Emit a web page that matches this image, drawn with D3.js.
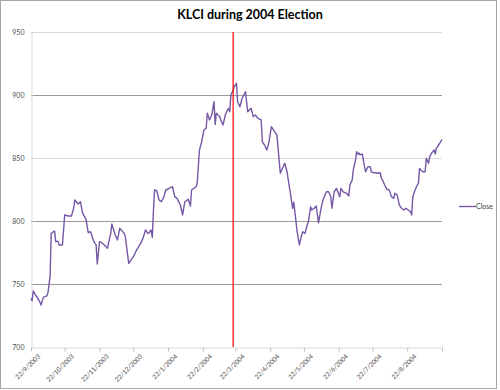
<!DOCTYPE html>
<html>
<head>
<meta charset="utf-8">
<script src="https://cdn.jsdelivr.net/npm/d3@7"></script>
<style>
  body { margin: 0; background: #fff; }
  text { font-family: Lato, "Open Sans", sans-serif; }
</style>
</head>
<body>
<script>
const chart_width = 500;
const chart_height = 390;

// closing values of the KLCI
const dates = [
  "2003-09-22","2003-09-23","2003-09-24","2003-09-26","2003-09-29","2003-10-01","2003-10-02","2003-10-03",
  "2003-10-06","2003-10-07","2003-10-09","2003-10-10","2003-10-12","2003-10-13","2003-10-14","2003-10-16",
  "2003-10-17","2003-10-20","2003-10-22","2003-10-25","2003-10-28","2003-10-30","2003-10-31","2003-11-03",
  "2003-11-05","2003-11-07","2003-11-10","2003-11-12","2003-11-14","2003-11-17","2003-11-19","2003-11-20",
  "2003-11-22","2003-11-24","2003-11-28","2003-11-29","2003-12-02","2003-12-03","2003-12-06","2003-12-08",
  "2003-12-10","2003-12-14","2003-12-15","2003-12-18","2003-12-20","2003-12-23","2003-12-25","2003-12-26",
  "2003-12-29","2003-12-31","2004-01-02","2004-01-04","2004-01-05","2004-01-07","2004-01-08","2004-01-09",
  "2004-01-10","2004-01-12","2004-01-14","2004-01-16","2004-01-18","2004-01-20","2004-01-23","2004-01-26",
  "2004-01-28","2004-01-30","2004-02-02","2004-02-04","2004-02-06","2004-02-09","2004-02-11","2004-02-12",
  "2004-02-16","2004-02-17","2004-02-19","2004-02-21","2004-02-23","2004-02-25","2004-02-26","2004-02-28",
  "2004-03-01","2004-03-03","2004-03-04","2004-03-05","2004-03-08","2004-03-09","2004-03-11","2004-03-13",
  "2004-03-15","2004-03-16","2004-03-17","2004-03-18","2004-03-20","2004-03-21","2004-03-23","2004-03-24",
  "2004-03-26","2004-03-28","2004-03-31","2004-04-02","2004-04-05","2004-04-07","2004-04-09","2004-04-11",
  "2004-04-14","2004-04-15","2004-04-17","2004-04-19","2004-04-21","2004-04-23","2004-04-26","2004-04-28",
  "2004-05-01","2004-05-03","2004-05-05","2004-05-07","2004-05-10","2004-05-12","2004-05-13","2004-05-15",
  "2004-05-16","2004-05-18","2004-05-20","2004-05-21","2004-05-23","2004-05-25","2004-05-26","2004-05-28",
  "2004-05-29","2004-05-31","2004-06-02","2004-06-04","2004-06-06","2004-06-08","2004-06-11","2004-06-13",
  "2004-06-15","2004-06-16","2004-06-18","2004-06-20","2004-06-23","2004-06-24","2004-06-26","2004-06-29",
  "2004-07-01","2004-07-02","2004-07-04","2004-07-05","2004-07-07","2004-07-08","2004-07-09","2004-07-10",
  "2004-07-11","2004-07-13","2004-07-15","2004-07-16","2004-07-18","2004-07-20","2004-07-21","2004-07-23",
  "2004-07-25","2004-07-27","2004-07-29","2004-07-30","2004-07-31","2004-08-02","2004-08-04","2004-08-06",
  "2004-08-08","2004-08-10","2004-08-11","2004-08-13","2004-08-15","2004-08-17","2004-08-19","2004-08-21",
  "2004-08-23","2004-08-25","2004-08-26","2004-08-27","2004-08-29","2004-08-31","2004-09-01","2004-09-02",
  "2004-09-03","2004-09-05","2004-09-07","2004-09-08","2004-09-10","2004-09-11","2004-09-13","2004-09-15",
  "2004-09-16","2004-09-17","2004-09-20","2004-09-22"
];
const close_values = [
  738.6,736.7,744.4,741.3,737.3,733.3,736.7,739.4,
  740.5,742.6,755.8,790.2,791.5,792.0,783.6,784.0,
  781.0,781.0,804.8,804.0,804.0,810.1,816.7,813.5,
  815.3,806.1,801.3,790.7,791.5,783.6,781.0,765.9,
  783.6,782.8,779.6,778.3,790.2,797.6,788.9,785.0,
  794.2,790.2,787.6,766.4,769.0,773.0,777.0,778.3,
  782.8,787.0,792.9,790.2,790.5,792.9,787.0,807.4,
  824.6,824.0,816.7,815.3,818.3,824.6,825.9,827.2,
  819.3,818.0,812.7,804.8,815.3,817.2,811.9,824.6,
  827.2,829.9,856.3,862.9,872.2,873.6,885.5,880.2,
  884.1,894.7,876.7,885.5,883.0,880.2,876.2,884.1,
  888.1,889.4,886.7,900.0,904.0,906.6,909.3,894.7,
  890.7,897.4,902.6,886.7,889.4,882.8,884.1,881.5,
  880.2,862.9,860.3,856.3,863.0,874.8,870.9,868.2,
  837.9,841.8,845.8,839.1,822.0,810.1,815.0,799.5,
  791.5,781.0,788.9,791.5,790.2,796.8,799.4,811.3,
  808.7,810.0,811.9,798.6,808.7,816.7,823.2,823.2,
  819.3,810.1,823.2,825.9,819.3,825.9,823.2,822.0,
  819.8,828.6,832.5,840.5,848.4,855.0,853.0,854.0,
  852.4,853.2,843.1,839.1,843.1,843.1,839.1,838.3,
  838.3,837.9,838.3,833.9,832.5,828.6,825.1,824.6,
  819.3,818.0,822.0,820.7,812.7,810.1,808.7,810.1,
  808.7,807.4,804.8,819.3,824.6,828.6,829.9,841.8,
  840.5,839.1,839.1,849.8,845.8,851.1,854.2,856.3,
  853.2,857.7,861.7,864.8
];
const tick_labels = ["22/9/2003","22/10/2003","22/11/2003","22/12/2003","22/1/2004","22/2/2004",
  "22/3/2004","22/4/2004","22/5/2004","22/6/2004","22/7/2004","22/8/2004"];
const y_ticks = [700, 750, 800, 850, 900, 950];
const election_date = "2004-03-20";
const series_name = "Close";

const parseDate = d3.timeParse("%Y-%m-%d");
const parseLabel = d3.timeParse("%d/%m/%Y");

let data = dates.map(function(d, i) { return {date: parseDate(d), value: close_values[i]}; });

let svg = d3.select("body").append("svg")
  .attr("width", chart_width)
  .attr("height", chart_height);

// outer border of the chart
svg.append("rect")
  .attr("x", 0.5).attr("y", 0.5)
  .attr("width", 496).attr("height", 388)
  .style("fill", "#fff")
  .style("stroke", "#a6a6a6");

const plot_left = 31, plot_right = 442, plot_top = 32, plot_bottom = 347;

let xScale = d3.scaleTime()
  .domain([parseDate("2003-09-22"), parseDate("2004-09-22")])
  .range([plot_left, plot_right]);
let yScale = d3.scaleLinear()
  .domain([700, 950])
  .range([plot_bottom, plot_top]);

// gridlines
svg.selectAll(".grid")
  .data(y_ticks.filter(function(d) { return d > 700; }))
  .enter().append("line")
  .attr("x1", plot_left).attr("x2", plot_right)
  .attr("y1", function(d) { return Math.round(yScale(d)) + 0.5; })
  .attr("y2", function(d) { return Math.round(yScale(d)) + 0.5; })
  .style("stroke", function(d) { return (d === 950 || d === 850) ? "#d9d9d9" : "#9a9a9a"; })
  .style("stroke-width", 1);

// y axis
let yAxis = svg.append("g")
  .attr("transform", "translate(" + (plot_left + 0.5) + ",0)")
  .call(d3.axisLeft(yScale).tickValues(y_ticks).tickSize(0).tickPadding(7));
yAxis.select(".domain").style("stroke", "#d9d9d9");
yAxis.selectAll("text").style("font-size", "7px").style("fill", "#505050");

// x axis
let tickDates = tick_labels.map(parseLabel).concat([parseDate("2004-09-22")]);
let xAxis = svg.append("g")
  .attr("transform", "translate(0," + (plot_bottom + 0.5) + ")")
  .call(d3.axisBottom(xScale).tickValues(tickDates).tickSizeInner(4).tickSizeOuter(0)
    .tickFormat(function(d, i) { return i < tick_labels.length ? tick_labels[i] : ""; }));
xAxis.select(".domain").style("stroke", "#d9d9d9");
xAxis.selectAll(".tick line").style("stroke", "#bfbfbf");
xAxis.selectAll("text")
  .style("font-size", "6.5px")
  .style("fill", "#505050")
  .attr("text-anchor", "end")
  .attr("dy", "0.3em")
  .attr("transform", "translate(3,3) rotate(-45)");

// the line
let line = d3.line()
  .x(function(d) { return xScale(d.date); })
  .y(function(d) { return yScale(d.value); });

svg.append("path")
  .datum(data)
  .attr("d", line)
  .style("fill", "none")
  .style("stroke", "#7458a6")
  .style("stroke-width", 1.4)
  .style("stroke-linejoin", "round");

// election day marker
svg.append("line")
  .attr("x1", xScale(parseDate(election_date)))
  .attr("x2", xScale(parseDate(election_date)))
  .attr("y1", plot_top).attr("y2", plot_bottom)
  .style("stroke", "#ff0000")
  .style("stroke-width", 1.2);

// title
svg.append("text")
  .attr("x", 250).attr("y", 19)
  .attr("text-anchor", "middle")
  .style("font-size", "12.5px")
  .style("font-weight", "bold")
  .style("fill", "#000")
  .text("KLCI during 2004 Election");

// legend
svg.append("line")
  .attr("x1", 459).attr("x2", 476)
  .attr("y1", 206.5).attr("y2", 206.5)
  .style("stroke", "#7458a6")
  .style("stroke-width", 1.4);
svg.append("text")
  .attr("x", 476).attr("y", 209)
  .style("font-size", "7px")
  .style("fill", "#404040")
  .text(series_name);
</script>
</body>
</html>
